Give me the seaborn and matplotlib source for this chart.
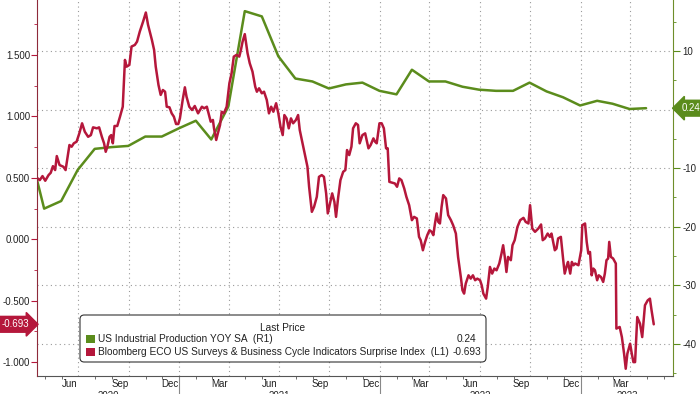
import pandas as pd
import matplotlib.pyplot as plt
import matplotlib.dates as mdates
import matplotlib.transforms as mtrans
from matplotlib.patches import FancyBboxPatch, Rectangle
import seaborn as sns

# surprise index (L1): day number since 2020-04-17 and index value
red_days = [0, 5, 10, 15, 21, 25, 29, 33, 36, 41, 48, 52, 59, 63, 67, 72, 77, 82, 87, 93,
            98, 102, 109, 113, 118, 122, 125, 128, 132, 135, 138, 141, 146, 151, 156, 160, 163, 168, 172, 178,
            182, 187, 193, 198, 202, 209, 213, 216, 221, 225, 229, 233, 236, 241, 245, 249, 253, 257, 260, 265,
            269, 272, 277, 282, 287, 293, 300, 304, 309, 313, 316, 320, 322, 326, 329, 333, 336, 340, 345, 350,
            354, 358, 363, 368, 371, 374, 378, 383, 387, 392, 397, 400, 404, 409, 413, 418, 422, 426, 430, 435,
            439, 443, 447, 450, 454, 458, 462, 466, 471, 475, 478, 483, 487, 492, 495, 500, 504, 509, 513, 518,
            522, 526, 529, 533, 537, 541, 544, 548, 552, 557, 561, 564, 568, 572, 575, 580, 584, 587, 592, 597,
            603, 607, 612, 615, 618, 623, 627, 631, 635, 638, 641, 647, 651, 655, 659, 663, 668, 672, 677, 682,
            686, 691, 695, 698, 702, 706, 710, 714, 718, 721, 724, 727, 730, 733, 736, 739, 744, 748, 753, 757,
            762, 766, 771, 774, 777, 780, 785, 789, 793, 797, 801, 806, 809, 812, 817, 820, 824, 828, 832, 836,
            841, 845, 848, 851, 854, 857, 862, 865, 869, 874, 879, 885, 889, 894, 897, 901, 906, 912, 917, 920,
            924, 929, 933, 936, 939, 942, 945, 948, 953, 957, 960, 964, 966, 970, 973, 976, 979, 985, 990, 992,
            997, 1000, 1003, 1006, 1009, 1012, 1015, 1019, 1022, 1026, 1030, 1033, 1036, 1039, 1041, 1044, 1048, 1053, 1054, 1060,
            1064, 1068, 1071, 1074, 1079, 1082, 1085, 1088, 1092, 1097, 1101, 1106, 1111, 1115, 1118, 1122]
red_values = [0.500, 0.481, 0.514, 0.476, 0.522, 0.541, 0.595, 0.563, 0.677, 0.604, 0.590, 0.563, 0.767, 0.753, 0.781, 0.794, 0.862, 0.944, 0.875, 0.834,
              0.848, 0.911, 0.903, 0.911, 0.834, 0.781, 0.712, 0.753, 0.834, 0.848, 0.781, 0.922, 0.922, 0.998, 1.079, 1.460, 1.405, 1.419, 1.569, 1.582,
              1.609, 1.691, 1.772, 1.846, 1.746, 1.623, 1.542, 1.405, 1.256, 1.175, 1.215, 1.201, 1.079, 1.074, 1.025, 0.998, 0.938, 0.938, 0.984, 1.134,
              1.237, 1.161, 1.079, 1.052, 1.085, 1.025, 1.079, 1.066, 1.079, 1.011, 0.957, 0.971, 0.903, 0.808, 0.862, 0.930, 1.038, 1.025, 1.079, 1.270,
              1.352, 1.487, 1.501, 1.487, 1.542, 1.609, 1.670, 1.515, 1.433, 1.365, 1.242, 1.201, 1.229, 1.188, 1.201, 1.134, 1.025, 1.079, 1.038, 1.107,
              1.025, 0.916, 0.848, 1.011, 0.984, 0.903, 0.984, 0.944, 0.971, 1.011, 0.889, 0.781, 0.699, 0.590, 0.427, 0.223, 0.263, 0.345, 0.508, 0.522,
              0.508, 0.373, 0.210, 0.291, 0.373, 0.304, 0.182, 0.345, 0.481, 0.549, 0.563, 0.726, 0.685, 0.753, 0.903, 0.944, 0.930, 0.781, 0.848, 0.862,
              0.740, 0.767, 0.821, 0.794, 0.781, 0.944, 0.944, 0.903, 0.740, 0.740, 0.467, 0.459, 0.454, 0.427, 0.495, 0.481, 0.414, 0.345, 0.277, 0.155,
              0.182, 0.169, 0.019, -0.008, -0.090, -0.022, 0.033, 0.073, 0.060, 0.033, 0.128, 0.210, 0.141, 0.128, 0.263, 0.359, 0.332, 0.196, 0.155, 0.114,
              0.046, -0.144, -0.308, -0.416, -0.443, -0.361, -0.294, -0.321, -0.294, -0.334, -0.321, -0.334, -0.375, -0.443, -0.484, -0.389, -0.226, -0.280, -0.239, -0.253,
              -0.198, -0.117, -0.049, -0.144, -0.267, -0.144, -0.171, -0.049, -0.008, 0.100, 0.155, 0.174, 0.141, 0.128, 0.277, 0.087, 0.060, 0.087, 0.120, -0.008,
              0.006, 0.046, 0.019, 0.046, -0.022, -0.090, -0.076, 0.006, 0.019, -0.157, -0.280, -0.212, -0.185, -0.280, -0.185, -0.212, -0.198, -0.212, -0.090, 0.114,
              0.128, -0.022, -0.117, -0.104, -0.294, -0.239, -0.253, -0.334, -0.294, -0.308, -0.348, -0.280, -0.171, -0.157, -0.022, -0.144, -0.157, -0.198, -0.728, -0.715,
              -0.797, -0.932, -1.055, -0.932, -0.851, -0.932, -1.001, -1.001, -0.634, -0.688, -0.797, -0.538, -0.498, -0.484, -0.579, -0.693]

# industrial production YoY % (R1), month end Mar 2020 .. Apr 2023
ip_values = [-5.6, -16.9, -15.6, -10.3, -6.7, -6.4, -6.2, -4.6, -4.6, -3.2,
             -1.9, -5.1, 0.5, 16.8, 15.9, 9.1, 5.3, 4.8, 3.6, 4.3, 4.6, 3.2,
             2.6, 6.8, 4.8, 4.8, 3.9, 3.4, 3.2, 3.2, 4.6, 3.1, 2.1, 0.7,
             1.5, 1.0, 0.1, 0.24]

month_labels = ['Jun', 'Sep', 'Dec', 'Mar']
years = ['2020', '2021', '2022', '2023']
legend_ip = 'US Industrial Production YOY SA  (R1)'
legend_red = 'Bloomberg ECO US Surveys & Business Cycle Indicators Surprise Index  (L1)'

RED = '#B5173B'
GREEN = '#5B8C1C'

base = pd.Timestamp('2020-04-17')
red = pd.DataFrame({'date': base + pd.to_timedelta(red_days, unit='D'), 'value': red_values})
ip = pd.DataFrame({'date': pd.date_range('2020-03-31', periods=len(ip_values), freq='ME'), 'value': ip_values})

sns.set_style('white')
plt.rcParams['font.family'] = ['Liberation Sans', 'DejaVu Sans']
plt.rcParams['font.size'] = 7

fig = plt.figure(figsize=(7, 3.94), dpi=100)
ax = fig.add_axes([37 / 700, 18 / 394, 636 / 700, 376 / 394])
axl = ax.twinx()
ax.yaxis.tick_right()
axl.yaxis.tick_left()

sns.lineplot(x='date', y='value', data=ip, ax=ax, color=GREEN, lw=1.8)
sns.lineplot(x='date', y='value', data=red, ax=axl, color=RED, lw=1.8)

xmin, xmax = pd.Timestamp('2020-04-17'), pd.Timestamp('2023-06-18')
ax.set_xlim(xmin, xmax)
ax.set_ylim(-45.46, 18.7)
axl.set_ylim(-1.114, 1.948)
ax.set(xlabel='', ylabel='')
axl.set(xlabel='', ylabel='')

# x axis: quarter ticks with grid, monthly minor ticks
ax.xaxis.set_major_locator(mdates.MonthLocator(bymonth=[1, 4, 7, 10]))
ax.xaxis.set_minor_locator(mdates.MonthLocator())
ax.xaxis.set_major_formatter(plt.NullFormatter())
ax.tick_params(axis='x', which='major', length=4, color='#555', direction='out')
ax.tick_params(axis='x', which='minor', length=2.5, color='#555', direction='out', bottom=True)

# right axis (R1)
ax.set_yticks([-40, -30, -20, -10, 0, 10])
ax.set_yticks(range(-45, 20, 5), minor=True)
ax.set_yticklabels(['-40', '-30', '-20', '-10', '', '10'])
ax.tick_params(axis='y', which='major', length=5, color=GREEN, labelcolor='#222', pad=2,
               right=True, left=False, labelright=True, labelleft=False)
ax.tick_params(axis='y', which='minor', length=2.5, color=GREEN, right=True, left=False)

# left axis (L1)
axl.set_yticks([-1.0, -0.5, 0.0, 0.5, 1.0, 1.5])
axl.set_yticks([-1.0, -0.75, -0.5, -0.25, 0, 0.25, 0.5, 0.75, 1.0, 1.25, 1.5, 1.75], minor=True)
axl.yaxis.set_major_formatter(plt.FormatStrFormatter('%.3f'))
axl.tick_params(axis='y', which='major', length=4, color=RED, labelcolor='#222', pad=1,
                left=True, right=False, labelleft=True, labelright=False)
axl.tick_params(axis='y', which='minor', length=2, color=RED, left=True, right=False)

for a in (ax, axl):
    a.spines['top'].set_visible(False)
ax.spines['left'].set_visible(False)
axl.spines['right'].set_visible(False)
axl.spines['left'].set_color('#8E2A3A')
ax.spines['right'].set_color('#6E8E2A')
ax.spines['bottom'].set_color('#555')
axl.spines['bottom'].set_visible(False)

ax.grid(True, which='major', axis='both', color='#9A9A9A', linestyle=(0, (1, 3)), lw=0.8)

# month labels at mid month, year labels centered on their span
mids = [pd.Timestamp(f'{y}-{m:02d}-15') for y in range(2020, 2024) for m in (3, 6, 9, 12)]
mids = [d for d in mids if xmin < d < pd.Timestamp('2023-05-01')]
sec = ax.secondary_xaxis('bottom')
sec.set_xticks([mdates.date2num(d) for d in mids],
               labels=[month_labels[[6, 9, 12, 3].index(d.month)] for d in mids])
sec.tick_params(length=0, pad=2, labelcolor='#222')
sec.spines['bottom'].set_visible(False)

bounds = [xmin] + [pd.Timestamp(f'{y}-01-01') for y in years[1:]] + [xmax]
ymids = [mdates.date2num(bounds[i]) / 2 + mdates.date2num(bounds[i + 1]) / 2 for i in range(len(years))]
sec2 = ax.secondary_xaxis('bottom')
sec2.set_xticks(ymids, labels=years)
sec2.tick_params(length=0, pad=10.5, labelcolor='#222')
sec2.spines['bottom'].set_visible(False)

sec3 = ax.secondary_xaxis('bottom')
sec3.set_xticks([mdates.date2num(b) for b in bounds[1:-1]], labels=['', '', ''])
sec3.tick_params(length=20, color='#888', width=0.8)
sec3.spines['bottom'].set_visible(False)

# last price tags
trl = mtrans.blended_transform_factory(axl.transAxes, axl.transData)
axl.text(-0.012, red_values[-1], f'{red_values[-1]:.3f}', transform=trl, ha='right', va='center',
         color='white', fontsize=7, clip_on=False,
         bbox=dict(boxstyle='rarrow,pad=0.3', fc=RED, ec=RED))
trr = mtrans.blended_transform_factory(ax.transAxes, ax.transData)
ax.text(1.013, ip_values[-1], f'{ip_values[-1]:.2f}', transform=trr, ha='left', va='center',
        color='white', fontsize=7, clip_on=False,
        bbox=dict(boxstyle='larrow,pad=0.3', fc=GREEN, ec=GREEN))

# legend box
W, H = 700, 394
fig.patches.append(FancyBboxPatch((80 / W, 1 - 362 / H), 406 / W, 47 / H,
                                  boxstyle='round,pad=0,rounding_size=0.006', mutation_aspect=W / H,
                                  transform=fig.transFigure, fc='white', ec='#333', lw=0.8, zorder=5))
fig.text(283 / W, 1 - 328 / H, 'Last Price', ha='center', va='center', fontsize=7.3, color='#222', zorder=6)
for yy, col, lab, val, xr in [(339, GREEN, legend_ip, '0.24', 476), (352, RED, legend_red, '-0.693', 481)]:
    fig.patches.append(Rectangle((86 / W, 1 - (yy + 4) / H), 9 / W, 8 / H, transform=fig.transFigure,
                                 fc=col, ec='none', zorder=6))
    fig.text(98 / W, 1 - yy / H, lab, ha='left', va='center', fontsize=7.3, color='#222', zorder=6)
    fig.text(xr / W, 1 - yy / H, val, ha='right', va='center', fontsize=7.3, color='#222', zorder=6)

plt.savefig('out.png', dpi=100)
